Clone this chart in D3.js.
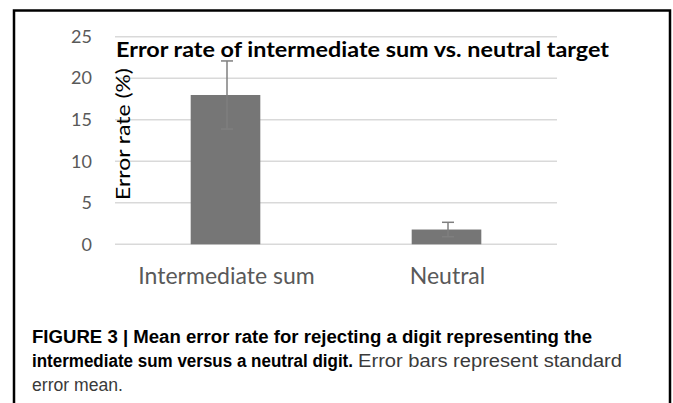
<!DOCTYPE html>
<html>
<head>
<meta charset="utf-8">
<style>
  body { margin: 0; background: #fff; }
  svg { display: block; }
</style>
</head>
<body>
<svg width="673" height="403"></svg>
<script src="https://cdn.jsdelivr.net/npm/d3@7"></script>
<script>

var categories = ["Intermediate sum", "Neutral"];
var means = [17.98, 1.78];
var errors = [4.1, 0.87];
var yTicks = [0, 5, 10, 15, 20, 25];

var svg = d3.select("svg"),
    width = +svg.attr("width"),
    height = +svg.attr("height");

var chartFont = "Lato, 'Open Sans', sans-serif",
    capFont = "'Liberation Sans', Arial, sans-serif";

svg.append("rect").attr("width", width).attr("height", height).attr("fill", "#fff");

// frame (open at the bottom, cut off by the picture edge)
svg.append("path")
    .attr("d", "M14,405V10.5H670V405")
    .attr("fill", "none")
    .attr("stroke", "#000")
    .attr("stroke-width", 2.5);

var x = d3.scaleBand()
    .domain(categories)
    .range([115, 557]);

var y = d3.scaleLinear()
    .domain([0, 25])
    .range([244.3, 36.7]);

// gridlines
svg.append("g")
  .selectAll("line")
  .data(yTicks)
  .enter().append("line")
    .attr("x1", 115)
    .attr("x2", 557)
    .attr("y1", function(d) { return y(d); })
    .attr("y2", function(d) { return y(d); })
    .attr("stroke", "#d9d9d9")
    .attr("stroke-width", 1.5);

// y tick labels
var yAxis = svg.append("g")
    .attr("transform", "translate(100,0)")
    .call(d3.axisLeft(y).tickValues(yTicks).tickSize(0).tickPadding(8));
yAxis.select(".domain").remove();
yAxis.selectAll("text")
    .attr("fill", "#595959")
    .attr("font-family", chartFont)
    .attr("font-size", 18);

// bars
var barW = x.bandwidth() * 0.315;
svg.append("g")
  .selectAll("rect")
  .data(categories)
  .enter().append("rect")
    .attr("x", function(d) { return x(d) + x.bandwidth() / 2 - barW / 2; })
    .attr("y", function(d, i) { return y(means[i]); })
    .attr("width", barW)
    .attr("height", function(d, i) { return y(0) - y(means[i]); })
    .attr("fill", "#767676");

// error bars
var err = svg.append("g")
    .attr("stroke", "#7f7f7f")
    .attr("stroke-width", 1.5)
  .selectAll("g")
  .data(categories)
  .enter().append("g")
    .attr("transform", function(d) { return "translate(" + (x(d) + x.bandwidth() / 2 + 1.5) + ",0)"; });

err.append("line")
    .attr("y1", function(d, i) { return y(means[i] + errors[i]); })
    .attr("y2", function(d, i) { return y(means[i] - errors[i]); });
err.append("line")
    .attr("x1", -6).attr("x2", 6)
    .attr("y1", function(d, i) { return y(means[i] + errors[i]); })
    .attr("y2", function(d, i) { return y(means[i] + errors[i]); });
err.append("line")
    .attr("x1", -6).attr("x2", 6)
    .attr("y1", function(d, i) { return y(means[i] - errors[i]); })
    .attr("y2", function(d, i) { return y(means[i] - errors[i]); });

// category labels
svg.append("g")
  .selectAll("text")
  .data(categories)
  .enter().append("text")
    .attr("x", function(d) { return x(d) + x.bandwidth() / 2 + 1; })
    .attr("y", 284)
    .attr("text-anchor", "middle")
    .attr("fill", "#595959")
    .attr("font-family", chartFont)
    .attr("font-size", 23)
    .text(function(d) { return d; });

// title
svg.append("text")
    .attr("x", 116)
    .attr("y", 57)
    .attr("font-family", chartFont)
    .attr("font-weight", "bold")
    .attr("font-size", 20)
    .attr("fill", "#000")
    .attr("textLength", 493)
    .attr("lengthAdjust", "spacingAndGlyphs")
    .text("Error rate of intermediate sum vs. neutral target");

// y axis title
svg.append("text")
    .attr("transform", "translate(130,134) rotate(-90)")
    .attr("text-anchor", "middle")
    .attr("font-family", chartFont)
    .attr("font-size", 20)
    .attr("fill", "#000")
    .attr("textLength", 132)
    .attr("lengthAdjust", "spacingAndGlyphs")
    .text("Error rate (%)");

// figure caption
var cap = svg.append("g")
    .attr("font-family", capFont)
    .attr("font-size", 17.5)
    .attr("lengthAdjust", "spacingAndGlyphs");

cap.append("text")
    .attr("x", 32).attr("y", 343)
    .attr("font-weight", "bold")
    .attr("fill", "#000")
    .attr("textLength", 560)
    .attr("lengthAdjust", "spacingAndGlyphs")
    .text("FIGURE 3 | Mean error rate for rejecting a digit representing the");

cap.append("text")
    .attr("x", 32).attr("y", 367)
    .attr("font-weight", "bold")
    .attr("fill", "#000")
    .attr("textLength", 321)
    .attr("lengthAdjust", "spacingAndGlyphs")
    .text("intermediate sum versus a neutral digit.");

cap.append("text")
    .attr("x", 358).attr("y", 367)
    .attr("fill", "#3a3a3a")
    .attr("textLength", 264)
    .attr("lengthAdjust", "spacingAndGlyphs")
    .text("Error bars represent standard");

cap.append("text")
    .attr("x", 32).attr("y", 391)
    .attr("fill", "#3a3a3a")
    .attr("textLength", 91)
    .attr("lengthAdjust", "spacingAndGlyphs")
    .text("error mean.");

</script>
</body>
</html>
